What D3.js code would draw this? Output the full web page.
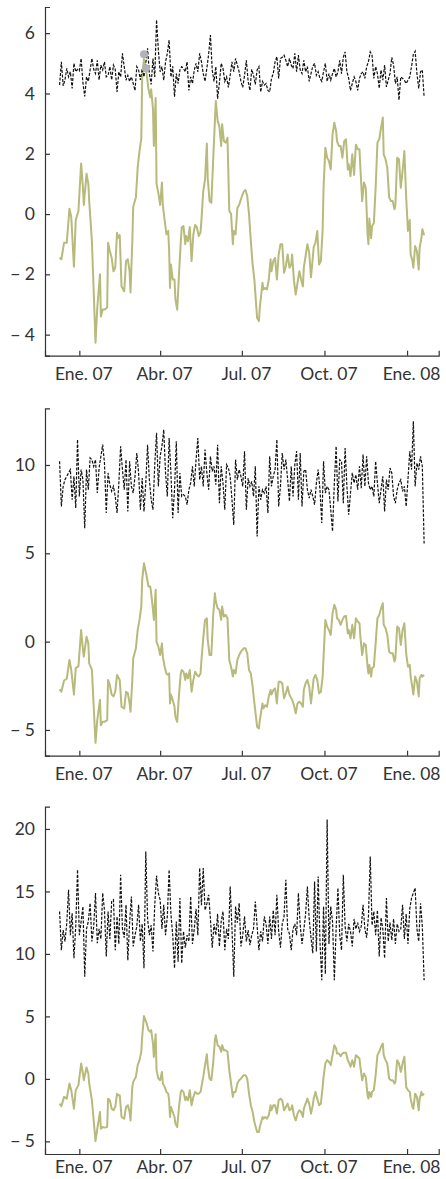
<!DOCTYPE html>
<html>
<head>
<meta charset="utf-8">
<script src="https://cdn.jsdelivr.net/npm/d3@7"></script>
<style>
  body { margin: 0; background: #fff; }
  .axis text { font-family: Lato, "Open Sans", sans-serif; font-size: 17.5px; fill: #333; }
  .axis path, .axis line { stroke: #333; stroke-width: 1.2; }
</style>
</head>
<body>
<svg id="chart" width="446" height="1179"></svg>
<script>
// day 0 of both series
var t0 = new Date(2006, 11, 10);

var xTickDates = ["2007-01-01", "2007-04-01", "2007-07-01", "2007-10-01", "2008-01-01"];
var xTickLabels = ["Ene. 07", "Abr. 07", "Jul. 07", "Oct. 07", "Ene. 08"];

var yTicks1 = [-4, -2, 0, 2, 4, 6];
var yTicks2 = [-5, 0, 5, 10];
var yTicks3 = [-5, 0, 5, 10, 15, 20];

// smooth (green) series: days since t0 and values in each panel
var greenDays = [0,2,5,8,11,13,16,18,21,24,26,27,30,32,33,36,38,40,42,45,46,48,50,53,54,56,58,60,62,64,65,67,69,72,74,76,78,79,
  81,82,85,87,89,91,92,94,97,99,101,102,104,105,107,108,110,112,114,115,117,119,121,122,123,124,126,128,129,131,133,135,
  136,138,140,141,143,145,147,149,151,153,155,157,158,160,162,164,165,167,169,171,173,174,176,178,180,181,183,185,187,
  189,191,193,194,196,198,200,202,205,207,209,211,213,215,217,220,222,223,226,227,229,231,233,235,236,238,240,242,244,
  246,248,250,252,254,256,258,259,261,263,265,267,269,271,272,274,276,278,280,282,283,285,287,289,291,293,294,296,298,
  300,302,304,306,308,309,311,313,315,317,319,321,322,324,326,328,330,332,334,335,337,339,341,343,344,345,347,348,350,
  352,354,356,358,360,361,363,365,367,369,371,373,374,376,378,380,382,384,386,388,390,391,393,394,396,398,400,401,403,404,406];

var green1 = [-1.45,-1.5,-0.95,-0.95,0.18,-0.1,-1.75,-0.2,0.1,1.68,0.87,0.3,1.34,1.0,0.43,-0.9,-2.56,-4.27,-3.1,-2.0,-3.4,-3.17,-3.17,-3.1,-0.95,-1.23,-1.45,-1.9,-1.78,-0.62,-0.79,-0.7,-2.4,-2.56,-1.56,-1.5,-1.9,-2.6,
  -0.9,0.24,0.56,1.54,2.09,2.5,4.53,5.14,4.64,4.14,3.87,4.14,3.5,2.26,3.85,1.0,0.7,0.3,1.05,0.3,-0.2,-0.67,-0.56,-1.2,-2.45,-1.67,-2.17,-2.17,-2.83,-3.17,-2.0,-0.9,
  -0.45,-0.4,-1.0,-0.73,-0.9,-0.43,-1.56,-0.67,-0.36,-0.45,-0.73,-0.6,-0.2,0.76,1.14,2.34,1.2,0.43,0.37,1.76,3.1,3.75,3.1,2.9,2.26,2.98,2.42,2.37,2.53,
  0.1,0.0,-1.0,-0.56,-0.67,0.2,0.3,0.5,0.74,0.8,0.6,0.0,-0.9,-1.67,-2.2,-3.45,-3.55,-3.1,-2.28,-2.5,-2.45,-2.5,-2.17,-1.5,-1.9,-1.56,-1.45,-2.17,-1.34,
  -1.0,-1.0,-1.95,-1.73,-1.34,-1.78,-1.67,-1.34,-2.2,-2.67,-2.28,-1.9,-2.17,-2.4,-1.78,-1.39,-1.0,-1.28,-2.1,-1.45,-1.1,-0.95,-0.56,-1.67,-1.56,-0.5,0.87,2.2,1.87,
  1.76,1.48,2.64,3.03,2.75,2.42,2.26,2.26,1.87,2.42,2.48,1.48,1.65,1.26,1.98,1.3,2.3,2.15,2.15,1.54,0.43,1.05,0.87,-0.67,-1.0,-0.15,-0.8,-0.4,-0.3,
  0.87,2.37,2.48,2.86,3.2,1.98,1.82,1.54,0.56,0.43,0.43,0.16,0.3,1.87,1.82,0.87,1.43,2.09,0.56,-0.56,-0.2,-1.34,-1.56,-1.78,-1.06,-1.23,-1.84,-1.12,-0.79,-0.5,-0.7];

var green2 = [-2.7,-2.84,-2.2,-2.1,-1.04,-1.6,-3.0,-1.5,-1.4,0.66,-0.47,-0.85,0.28,-0.1,-1.23,-1.6,-3.69,-5.73,-4.44,-3.3,-4.73,-4.54,-4.54,-4.44,-2.17,-2.46,-3.0,-3.1,-2.84,-1.89,-1.98,-2.17,-3.69,-3.78,-2.84,-2.93,-3.5,-3.97,
  -2.17,-0.95,-0.38,0.66,1.23,1.99,3.5,4.44,3.7,3.12,3.12,2.74,1.8,1.23,2.93,0.0,-0.28,-0.76,-0.1,-0.85,-1.42,-1.8,-1.89,-1.8,-3.5,-3.0,-3.3,-3.69,-4.25,-4.54,-3.0,-1.8,
  -1.61,-1.7,-2.17,-1.8,-2.08,-1.61,-2.84,-2.17,-1.7,-1.89,-1.98,-1.8,-1.04,0.19,1.23,1.32,0.1,-0.76,-0.76,1.42,2.74,2.27,1.89,1.8,1.23,1.99,1.42,1.51,1.32,
  -1.04,-1.42,-1.98,-1.61,-1.8,-1.04,-0.76,-0.57,-0.38,-0.38,-0.66,-1.61,-1.8,-2.55,-3.5,-4.82,-4.92,-4.44,-3.5,-3.78,-3.6,-3.69,-3.1,-2.74,-3.0,-2.74,-2.65,-3.5,-2.27,
  -2.27,-2.36,-3.2,-2.93,-2.55,-3.0,-3.2,-3.3,-3.6,-4.06,-3.5,-3.4,-3.5,-3.69,-2.74,-2.36,-2.17,-2.55,-3.5,-2.55,-2.08,-1.89,-2.17,-2.93,-2.84,-1.98,-0.85,1.23,0.85,
  0.66,0.38,1.61,2.08,1.8,1.32,1.23,0.95,1.23,1.42,1.46,0.47,0.66,0.19,0.95,0.19,1.32,1.14,1.04,0.28,-0.76,-0.1,-0.19,-1.42,-1.8,-1.32,-1.98,-1.51,-1.42,
  -0.1,1.32,1.51,1.89,2.17,0.95,0.76,0.38,-0.57,-0.66,-0.66,-1.13,-0.95,0.85,0.76,-0.19,0.66,1.04,-0.66,-1.42,-1.32,-1.98,-2.65,-3.0,-1.98,-2.27,-3.1,-2.08,-1.89,-1.98,-1.89];

var green3 = [-1.98,-2.19,-1.44,-1.58,-0.37,-0.9,-2.38,-0.9,-0.5,1.23,0.43,-0.1,0.91,0.43,-0.37,-1.71,-3.32,-4.98,-3.99,-2.65,-3.99,-3.85,-3.9,-3.85,-1.58,-1.71,-2.38,-2.51,-2.25,-1.18,-1.31,-1.31,-3.05,-3.18,-2.25,-2.11,-2.65,-3.32,
  -0.64,-0.24,0.16,1.1,1.5,2.17,3.37,5.03,4.44,3.9,3.77,3.9,2.83,1.76,3.58,0.7,0.03,-0.1,0.56,-0.37,-0.64,-1.04,-1.18,-1.71,-3.05,-2.25,-2.65,-3.05,-3.58,-3.85,-2.25,-1.04,
  -0.9,-1.04,-1.71,-1.44,-1.71,-0.9,-2.11,-1.44,-1.04,-1.18,-1.18,-1.04,-0.64,0.16,1.1,1.98,1.1,0.03,-0.1,1.23,3.1,3.5,2.7,2.57,2.17,2.7,2.3,2.3,2.17,
  0.7,-0.37,-1.44,-1.04,-1.04,-0.37,-0.1,0.03,0.3,0.3,0.03,-1.18,-2.11,-2.65,-3.45,-4.25,-4.25,-3.85,-3.05,-3.18,-3.05,-3.18,-2.91,-2.11,-2.51,-2.11,-2.11,-2.78,-1.71,
  -1.58,-1.71,-2.51,-2.25,-1.98,-2.51,-2.38,-2.11,-2.91,-3.32,-2.78,-2.51,-2.65,-3.05,-2.38,-1.98,-1.58,-1.98,-2.78,-2.11,-1.58,-1.04,-1.58,-2.11,-1.98,-0.64,0.16,1.23,1.5,
  1.37,1.1,1.9,2.7,2.43,2.03,2.03,1.82,2.03,2.1,2.1,1.5,1.37,0.97,1.5,0.97,1.9,1.77,1.63,0.97,-0.1,0.43,0.16,-1.31,-1.58,-1.04,-1.44,-1.04,-0.9,
  0.3,1.9,2.17,2.57,2.83,1.9,1.5,1.23,0.03,-0.1,-0.1,-0.37,-0.24,1.5,1.23,0.56,1.23,1.77,-0.64,-0.9,-1.04,-1.58,-2.25,-2.38,-1.18,-1.44,-2.51,-1.58,-1.04,-1.31,-1.18];

// daily-ish (dashed black) series, one value every blackStep days from t0
var blackStep = 2;

var black1 = [4.28,5.05,4.25,4.45,4.83,4.55,4.72,4.17,5.0,4.72,
  4.8,4.75,5.16,4.35,3.9,4.55,4.4,4.78,5.16,4.8,
  4.66,5.1,4.45,4.94,4.78,5.05,4.55,4.6,4.89,4.45,
  4.94,4.8,4.05,4.72,4.55,5.33,4.89,4.44,4.6,4.4,
  4.55,4.33,4.1,4.89,4.78,4.45,4.83,4.55,5.0,5.5,
  4.65,4.3,5.16,4.55,6.44,5.44,4.72,4.89,4.44,5.05,
  5.33,5.77,4.55,4.9,3.89,4.66,4.33,4.78,4.89,4.83,
  4.72,5.05,4.1,4.55,4.33,4.78,5.0,4.72,5.33,5.05,
  4.66,4.4,4.83,5.3,5.94,4.78,4.4,4.89,3.83,4.35,
  5.0,4.83,4.4,4.55,4.2,4.6,5.05,4.72,5.16,4.94,
  4.72,4.4,4.2,4.6,5.1,4.4,4.1,4.8,4.6,4.3,
  4.78,4.89,4.05,4.4,4.28,4.33,4.1,4.05,4.5,4.66,
  5.05,5.22,4.5,5.16,5.2,5.27,5.1,4.89,5.16,4.94,
  4.83,5.33,4.72,5.27,4.78,4.66,5.1,4.72,4.89,4.4,
  4.66,4.9,5.0,4.6,4.72,4.5,4.4,4.72,5.0,4.4,
  4.66,4.44,4.66,4.83,4.55,4.72,5.1,4.66,5.2,5.38,
  4.72,4.5,4.1,4.33,4.55,4.4,4.1,4.5,4.66,4.72,
  4.5,4.89,5.05,5.38,5.27,4.5,4.89,4.66,4.17,4.78,
  4.44,4.94,4.22,4.44,4.66,5.2,4.94,4.33,4.55,3.78,
  4.55,4.5,4.44,4.33,4.44,4.55,4.9,5.3,5.4,4.66,
  4.17,4.72,4.78,3.88];

var black2 = [10.21,7.65,8.79,9.17,9.36,9.55,9.74,8.03,9.36,7.56,
  11.44,8.22,9.74,9.17,6.42,9.74,8.6,10.4,10.3,9.92,
  10.3,8.41,9.83,10.49,11.15,10.11,7.28,9.55,8.88,8.51,
  8.79,8.22,7.28,8.98,11.06,9.74,8.6,10.3,7.37,10.21,
  8.79,8.41,9.36,10.68,9.55,7.47,9.26,7.37,8.98,11.15,
  9.17,8.03,7.47,10.02,11.82,8.79,10.49,11.06,12.0,9.55,
  8.22,11.53,9.55,6.99,8.6,11.34,7.28,9.55,8.22,8.32,
  8.22,7.75,8.6,8.98,9.92,8.79,10.3,11.53,9.17,9.92,
  8.79,10.87,9.55,8.6,10.49,9.64,9.92,8.88,11.15,7.84,
  9.92,8.98,7.47,10.02,9.83,9.36,8.03,6.61,10.3,9.17,
  9.74,9.36,8.79,10.78,7.47,9.26,8.79,9.07,8.22,9.92,
  5.95,8.79,8.03,8.6,8.41,8.79,7.28,10.49,8.79,9.36,
  9.74,11.44,7.65,8.79,10.68,9.74,10.3,9.17,7.94,9.92,
  8.22,10.02,10.78,8.03,10.68,7.65,9.64,9.74,8.6,8.13,
  8.6,8.22,7.75,8.98,9.74,8.6,6.71,10.21,8.41,8.79,
  8.6,7.47,6.24,8.98,11.06,7.94,10.3,10.21,7.84,10.96,
  8.79,7.18,8.41,9.55,8.98,9.45,8.6,9.92,8.69,10.59,
  8.79,10.49,8.98,8.6,8.79,8.22,10.21,8.98,7.84,8.6,
  9.36,7.37,9.17,8.6,9.83,9.55,8.22,7.84,8.6,8.98,
  9.17,8.51,8.79,7.65,9.17,10.78,9.74,12.48,8.79,10.11,
  9.74,10.49,9.92,5.55];

var black3 = [13.4,10.3,11.9,11.0,12.46,15.13,11.5,13.26,9.65,12.2,
  16.74,11.5,12.6,13.8,8.18,12.0,12.6,14.06,11.0,12.2,
  14.87,10.86,12.0,11.2,14.87,13.5,9.79,13.4,11.2,14.2,
  14.33,10.3,13.0,10.8,16.34,12.0,11.3,13.93,9.5,12.5,
  14.6,10.6,11.5,12.2,13.93,11.0,12.4,8.85,18.2,12.8,
  11.5,12.3,10.19,13.93,16.26,14.87,14.33,12.0,13.93,11.5,
  13.0,16.74,13.2,11.5,8.85,12.6,9.38,14.47,9.25,11.8,
  10.5,11.5,11.0,14.6,10.8,12.0,13.6,11.5,16.87,13.9,
  16.87,13.5,14.0,14.73,12.8,10.5,12.4,11.5,13.2,10.6,
  12.6,13.4,10.3,12.0,11.2,15.4,12.0,8.18,13.8,12.5,
  14.06,10.6,11.5,13.0,11.0,11.9,10.7,11.5,12.0,14.2,
  12.2,10.3,11.8,11.0,13.0,12.4,10.8,13.0,11.2,13.5,
  11.5,14.73,11.8,10.5,12.4,13.0,15.94,12.0,11.6,10.3,
  12.0,12.4,11.5,14.87,12.3,10.8,11.9,13.2,15.4,12.8,
  11.3,10.05,15.8,10.2,16.2,11.0,7.9,13.8,8.4,20.75,
  10.8,13.8,12.6,7.9,12.0,15.27,11.5,10.3,16.34,12.2,
  11.0,12.4,11.8,10.6,12.8,12.0,12.5,11.8,12.2,13.93,
  12.0,11.3,13.0,17.8,12.3,13.4,11.5,13.5,9.79,12.9,
  12.0,9.65,14.47,11.0,12.5,11.1,12.8,10.8,12.4,11.8,
  12.0,13.93,11.2,13.2,10.8,13.6,14.47,14.87,15.27,12.0,
  11.0,14.06,12.2,7.9];

// grey markers, top panel only
var markDays = [94, 96];
var markVals = [5.30, 4.84];

var left = 45,
    right = 438.7,
    panelTops = [7, 408.3, 806.7],
    panelBottoms = [355.7, 755.7, 1154],
    labelPads = [12, 12, 7];

function dayToDate(d) { return new Date(t0.getTime() + d * 864e5); }

function pad4(ext) {
  var r = (ext[1] - ext[0]) * 0.04;
  return [ext[0] - r, ext[1] + r];
}

var panels = [
  { black: black1, green: green1, ticks: yTicks1, marks: true },
  { black: black2, green: green2, ticks: yTicks2, marks: false },
  { black: black3, green: green3, ticks: yTicks3, marks: false }
];

var lastDay = (black1.length - 1) * blackStep;
var dayExt = pad4([0, lastDay]);

var x = d3.scaleTime()
  .domain([dayToDate(dayExt[0]), dayToDate(dayExt[1])])
  .range([left, right]);

var svg = d3.select("#chart");

function yFormat(d) {
  return d < 0 ? "\u2212 " + Math.abs(d) : String(d);
}

panels.forEach(function(p, i) {
  var top = panelTops[i],
      bottom = panelBottoms[i];

  var blackData = p.black.map(function(v, k) { return [k * blackStep, v]; });
  var greenData = greenDays.map(function(d, k) { return [d, p.green[k]]; });
  var markData = p.marks ? markDays.map(function(d, k) { return [d, markVals[k]]; }) : [];

  var allVals = p.black.concat(p.green).concat(p.marks ? markVals : []);
  var y = d3.scaleLinear()
    .domain(pad4(d3.extent(allVals)))
    .range([bottom, top]);

  var line = d3.line()
    .x(function(d) { return x(dayToDate(d[0])); })
    .y(function(d) { return y(d[1]); });

  var g = svg.append("g");

  g.append("path")
    .datum(greenData)
    .attr("fill", "none")
    .attr("stroke", "#b8ba7c")
    .attr("stroke-width", 2)
    .attr("stroke-linejoin", "round")
    .attr("d", line);

  g.append("path")
    .datum(blackData)
    .attr("fill", "none")
    .attr("stroke", "#111")
    .attr("stroke-width", 1.2)
    .attr("stroke-dasharray", "3,1.5")
    .attr("d", line);

  g.selectAll("circle")
    .data(markData)
    .enter()
    .append("circle")
      .attr("cx", function(d) { return x(dayToDate(d[0])); })
      .attr("cy", function(d) { return y(d[1]); })
      .attr("r", 4)
      .attr("fill", "#b3b3b7");

  g.append("g")
    .attr("class", "axis")
    .attr("transform", "translate(" + left + ",0)")
    .call(d3.axisLeft(y)
      .tickValues(p.ticks)
      .tickFormat(yFormat)
      .tickSize(-5)
      .tickSizeOuter(-5)
      .tickPadding(10));

  var xAxis = g.append("g")
    .attr("class", "axis")
    .attr("transform", "translate(0," + bottom + ")")
    .call(d3.axisBottom(x)
      .tickValues(xTickDates.map(function(s) { return d3.timeParse("%Y-%m-%d")(s); }))
      .tickFormat(function(d, k) { return xTickLabels[k]; })
      .tickSize(-5)
      .tickSizeOuter(-5)
      .tickPadding(labelPads[i]));

  xAxis.selectAll("text").attr("dx", 4);
  g.selectAll(".domain").attr("fill", "none");
});
</script>
</body>
</html>
